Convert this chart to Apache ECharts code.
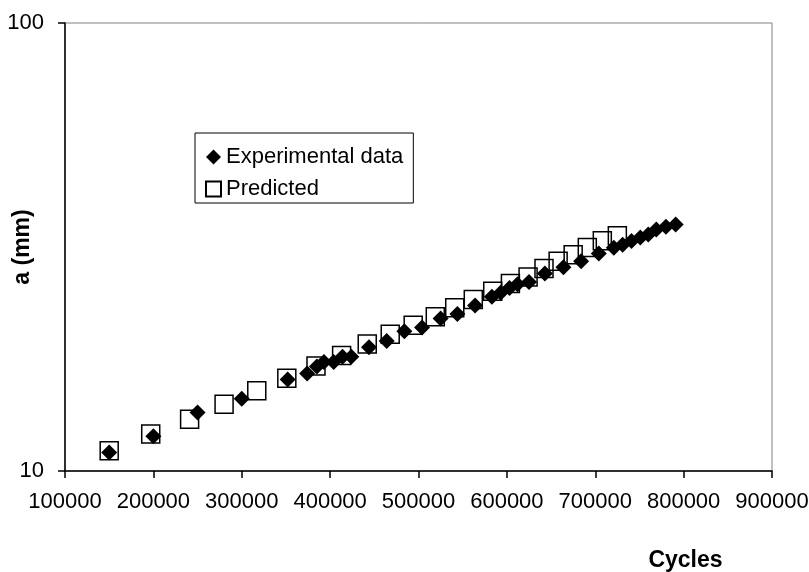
<!DOCTYPE html>
<html>
<head>
<meta charset="utf-8">
<script src="https://cdn.jsdelivr.net/npm/echarts@6/dist/echarts.min.js"></script>
<style>
html,body{margin:0;padding:0;background:#fff;}
#chart{width:809px;height:572px;}
</style>
</head>
<body>
<div id="chart"></div>
<script>
const xTickMin = 100000;
const xTickMax = 900000;
const xTickStep = 100000;
const yMin = 10;
const yMax = 100;

const expCycles = [150000, 200000, 250000, 300000, 352000, 374000, 385000, 393000, 404000, 414000, 424000, 444000, 464000, 484000, 504000, 525000, 544000, 564000, 583000, 593000, 603000, 612000, 625000, 643000, 664000, 684000, 704000, 721000, 731000, 741000, 751000, 760000, 769000, 780000, 791000];
const expA = [11.0, 11.95, 13.5, 14.5, 16.0, 16.5, 17.1, 17.5, 17.5, 18.0, 18.0, 18.9, 19.5, 20.5, 20.9, 21.9, 22.4, 23.4, 24.5, 25.0, 25.6, 26.1, 26.4, 27.6, 28.5, 29.4, 30.6, 31.5, 32.0, 32.6, 33.2, 33.7, 34.6, 35.1, 35.5];

const predCycles = [150000, 197000, 241000, 280000, 317000, 351000, 384000, 413000, 442000, 468000, 494000, 519000, 541000, 562000, 584000, 604000, 624000, 642000, 658000, 675000, 691000, 708000, 725000];
const predA = [11.1, 12.1, 13.05, 14.1, 15.1, 16.1, 17.15, 18.1, 19.2, 20.2, 21.15, 22.1, 23.15, 24.15, 25.2, 26.2, 27.1, 28.3, 29.4, 30.4, 31.55, 32.65, 33.5];

const seriesNames = ['Experimental data', 'Predicted'];
const xTitle = 'Cycles';
const yTitle = 'a (mm)';

const FONT = '"Liberation Sans", Arial, sans-serif';

const chart = echarts.init(document.getElementById('chart'), null, {renderer: 'canvas'});
const option = {
  backgroundColor: '#fff',
  animation: false,
  grid: {
    left: 65, right: 37, top: 23, bottom: 101,
    containLabel: false,
    outerBoundsMode: 'none',
    show: true, borderColor: '#808080', borderWidth: 1, backgroundColor: 'transparent'
  },
  legend: {
    data: [
      {name: seriesNames[0], icon: 'diamond'},
      {name: seriesNames[1], icon: 'rect'}
    ],
    orient: 'vertical',
    left: 195, top: 133,
    padding: [13, 10, 3, 10],
    itemGap: 10,
    itemWidth: 15, itemHeight: 15,
    itemTextGap: 5,
    borderColor: '#000', borderWidth: 1,
    backgroundColor: '#fff',
    textStyle: {fontFamily: FONT, fontSize: 22, color: '#000'},
    selectedMode: false
  },
  xAxis: {
    type: 'value',
    min: xTickMin, max: xTickMax, interval: xTickStep,
    name: xTitle,
    nameLocation: 'middle',
    nameGap: 78,
    nameMoveOverlap: false,
    nameTextStyle: {fontFamily: FONT, fontSize: 23, fontWeight: 'bold', color: '#000', padding: [0, 0, 0, 534]},
    axisLine: {show: true, onZero: false, lineStyle: {color: '#000', width: 1.5}},
    axisTick: {show: true, inside: false, length: 7, lineStyle: {color: '#000', width: 1.5}},
    axisLabel: {margin: 20, fontFamily: FONT, fontSize: 22, color: '#000', formatter: v => String(v), hideOverlap: false},
    splitLine: {show: false}
  },
  yAxis: {
    type: 'log',
    logBase: 10,
    min: yMin, max: yMax,
    name: yTitle,
    nameLocation: 'middle',
    nameGap: 31,
    nameRotate: 90,
    nameMoveOverlap: false,
    nameTextStyle: {fontFamily: FONT, fontSize: 23, fontWeight: 'bold', color: '#000'},
    axisLine: {show: true, onZero: false, lineStyle: {color: '#000', width: 1.5}},
    axisTick: {show: true, inside: false, length: 7, lineStyle: {color: '#000', width: 1.5}},
    axisLabel: {margin: 21, fontFamily: FONT, fontSize: 22, color: '#000', formatter: v => String(v)},
    splitLine: {show: false},
    minorTick: {show: false}
  },
  series: [
    {
      name: seriesNames[1],
      type: 'scatter',
      symbol: 'rect',
      symbolSize: 18,
      z: 2,
      itemStyle: {color: 'rgba(255,255,255,0)', borderColor: '#000', borderWidth: 1.5, opacity: 1},
      data: predCycles.map((c, i) => [c, predA[i]])
    },
    {
      name: seriesNames[0],
      type: 'scatter',
      symbol: 'diamond',
      symbolSize: 16,
      z: 3,
      itemStyle: {color: '#000', opacity: 1},
      data: expCycles.map((c, i) => [c, expA[i]])
    }
  ]
};
chart.setOption(option);
</script>
</body>
</html>
